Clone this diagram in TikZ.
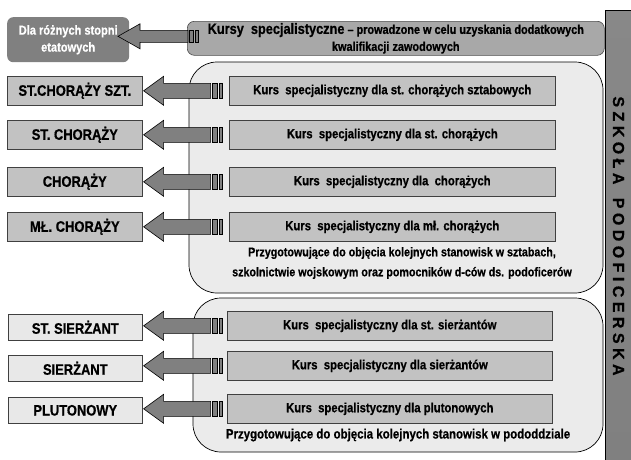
\documentclass[tikz,border=0pt]{standalone}
\usepackage{fontspec}
\setmainfont{Liberation Sans}[FakeStretch=0.85, BoldFont={Liberation Sans Bold}, BoldFeatures={FakeStretch=0.85, FakeBold=0.6}]
\newfontfamily\widefont{Liberation Sans}[BoldFont={Liberation Sans Bold}, BoldFeatures={FakeBold=0.6}]
\usetikzlibrary{calc}
\definecolor{regfill}{gray}{0.92}
\definecolor{boxfill}{gray}{0.76}
\definecolor{lightbox}{gray}{0.91}
\definecolor{arrfill}{gray}{0.50}
\definecolor{topfill}{gray}{0.66}
\definecolor{dlafill}{gray}{0.50}
\tikzset{
  arrstyle/.style={fill=arrfill, draw=black, line width=0.6pt, line join=miter},
  region/.style={fill=regfill, draw=black, line width=0.7pt, rounded corners=28},
  lbox/.style={draw=black!75, fill=boxfill, line width=0.6pt, anchor=north west, inner sep=0pt,
    minimum width=135, minimum height=29, font=\bfseries\fontsize{15.2}{17}\selectfont},
  slbox/.style={lbox, fill=lightbox, minimum width=134, minimum height=26},
  rbox/.style={draw=black!75, fill=boxfill, line width=0.6pt, anchor=north west, inner sep=0pt,
    minimum width=326, minimum height=29, font=\bfseries\fontsize{13.3}{15}\selectfont},
  desc/.style={align=center, inner sep=0pt, font=\bfseries\fontsize{13.5}{20}\selectfont},
  sarrow/.pic={
    \draw[arrstyle] (0,0) -- (20,-14.5) -- (20,-7.5) -- (67,-7.5) -- (67,7.5) -- (20,7.5) -- (20,14.5) -- cycle;
    \draw[arrstyle] (69,-7.5) rectangle (74,7.5);
    \draw[arrstyle] (76,-7.5) rectangle (79,7.5);
  }
}
\begin{document}
\begin{tikzpicture}[x=1pt,y=-1pt]
\useasboundingbox (0,0) rectangle (631,459);
% vertical bar
\path[top color={rgb,255:red,136;green,136;blue,136}, middle color={rgb,255:red,210;green,210;blue,210},
  bottom color={rgb,255:red,128;green,128;blue,128}] (605,10) rectangle (632,460);
\draw[black, line width=0.8pt] (605,460) -- (605,10) -- (632,10);
\node[rotate=-90, inner sep=0pt, font=\widefont\bfseries\fontsize{16}{18}\selectfont] (school) at (618.5,236)
  {S Z K O Ł A \ \ P O D O F I C E R S K A};

% regions
\draw[region] (189,62) rectangle (603,293);
\draw[region] (193,298) rectangle (603,452);

% top row
\node[fill=dlafill, rounded corners=6, anchor=north west, minimum width=122, minimum height=45, inner sep=0pt,
  align=center, text=white, font=\bfseries\fontsize{13}{17}\selectfont] (D) at (7,17) {Dla różnych stopni\\etatowych};
\node[fill=topfill, draw=black!70, line width=0.6pt, rounded corners=7, anchor=north west, minimum width=417,
  minimum height=34, inner sep=0pt, align=center, font=\bfseries\fontsize{12.8}{17}\selectfont] (T) at (187,21)
  {{\fontsize{15}{17}\selectfont Kursy\ \ specjalistyczne} – prowadzone w celu uzyskania dodatkowych\\kwalifikacji zawodowych};
\begin{scope}[shift={($(T.west)+(-69,-2)$)}]
  \draw[arrstyle] (0,0) -- (22,-12.5) -- (22,-6) -- (70,-6) -- (70,6) -- (22,6) -- (22,12.5) -- cycle;
  \draw[arrstyle] (71,-6) rectangle (75,6);
  \draw[arrstyle] (77,-6) rectangle (80,6);
\end{scope}

% choraży rows
\node[lbox] (L1) at (7,76) {ST.CHORĄŻY SZT.};
\node[lbox] (L2) at (7,120) {ST. CHORĄŻY};
\node[lbox] (L3) at (7,167) {CHORĄŻY};
\node[lbox] (L4) at (7,212) {MŁ. CHORĄŻY};
\node[rbox] (R1) at (229,76) {Kurs\ \ specjalistyczny dla st. chorążych sztabowych};
\node[rbox] (R2) at (229,120) {Kurs\ \ specjalistyczny dla st. chorążych};
\node[rbox] (R3) at (229,167) {Kurs\ \ specjalistyczny dla\ \ chorążych};
\node[rbox] (R4) at (229,212) {Kurs\ \ specjalistyczny dla mł. chorążych};
\node[desc, font=\bfseries\fontsize{12.6}{20}\selectfont] (P1) at (402,263) {Przygotowujące do objęcia kolejnych stanowisk w sztabach,\\szkolnictwie wojskowym oraz pomocników d-ców ds. podoficerów};

% sierżant rows
\node[slbox] (S1) at (8,314) {ST. SIERŻANT};
\node[slbox] (S2) at (8,355) {SIERŻANT};
\node[slbox] (S3) at (8,397) {PLUTONOWY};
\node[rbox, minimum width=325] (Q1) at (227,311) {Kurs\ \ specjalistyczny dla st. sierżantów};
\node[rbox, minimum width=325] (Q2) at (227,351) {Kurs\ \ specjalistyczny dla sierżantów};
\node[rbox, minimum width=325] (Q3) at (227,394) {Kurs\ \ specjalistyczny dla plutonowych};
\node[desc] (P2) at (398,435) {Przygotowujące do objęcia kolejnych stanowisk w pododdziale};

% arrows
\foreach \l/\r in {L1/R1,L2/R2,L3/R3,L4/R4,S1/Q1,S2/Q2,S3/Q3}{
  \pic at ($(\l.east |- \r.west)+(1,0)$) {sarrow};
}
\end{tikzpicture}
\end{document}
